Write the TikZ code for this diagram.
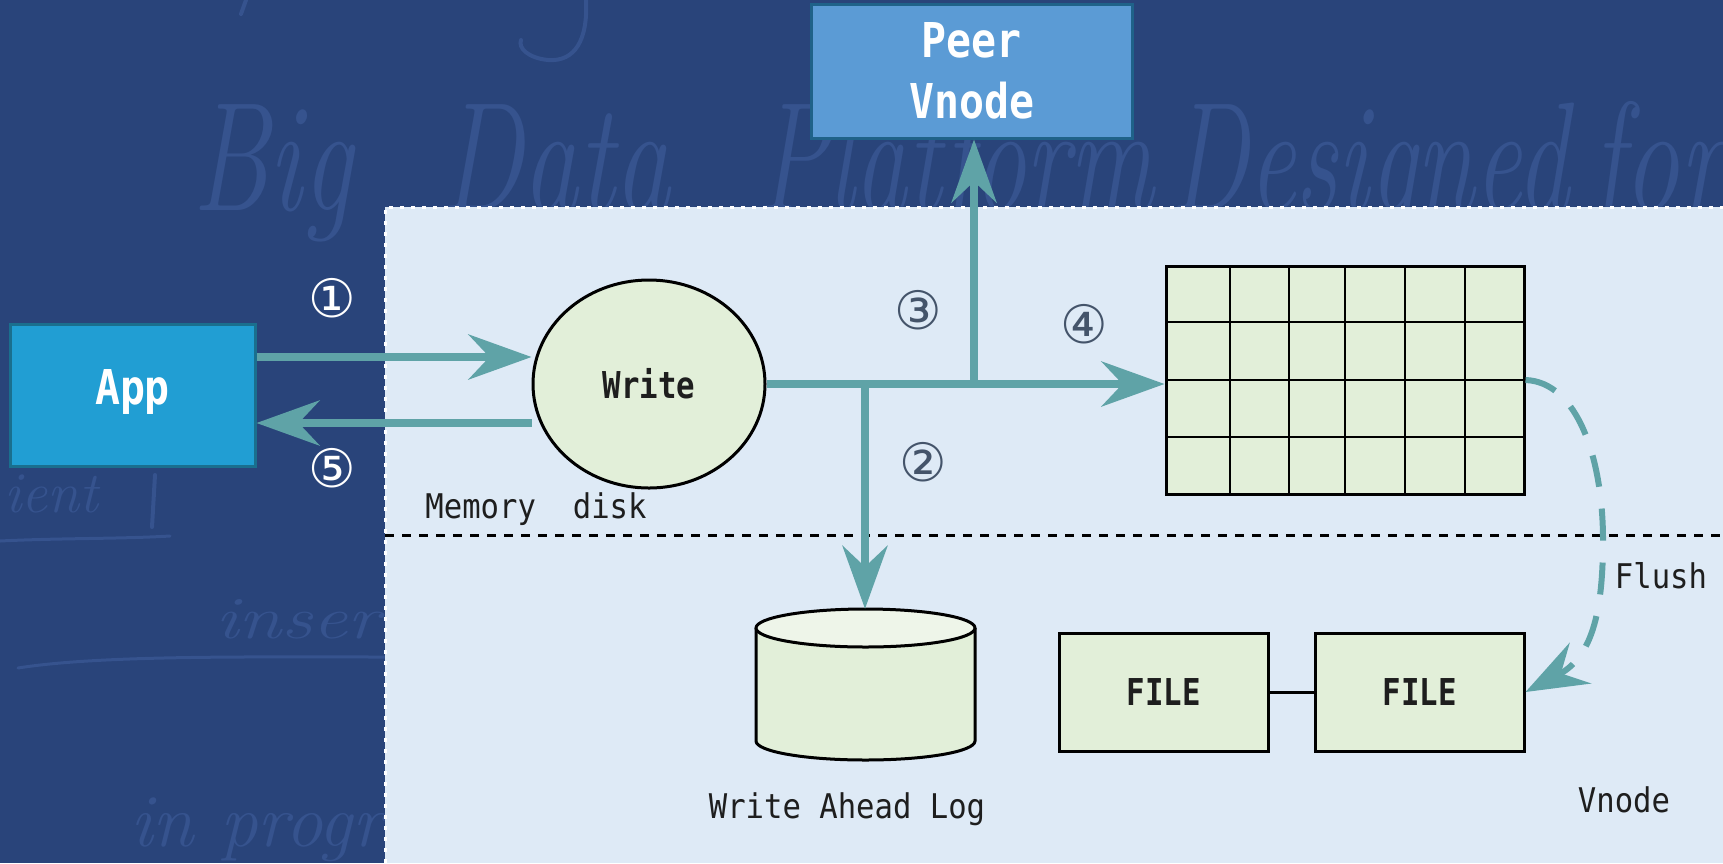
\documentclass[tikz,border=0pt]{standalone}
\usepackage{fontspec}
\usetikzlibrary{arrows.meta,shapes.geometric}
\newfontfamily\bodymono[FakeStretch=0.90]{DejaVu Sans Mono}
\newfontfamily\keymono[FakeStretch=0.83]{DejaVu Sans Mono}
\newfontfamily\titlemono[FakeStretch=0.865]{DejaVu Sans Mono}
\newfontfamily\circfont{DejaVu Sans}
\definecolor{bgblue}{HTML}{29447A}
\definecolor{chalk}{HTML}{36538E}
\definecolor{panelblue}{HTML}{DEEAF6}
\definecolor{nodegreen}{HTML}{E2EFD9}
\definecolor{captop}{HTML}{EEF5E9}
\definecolor{flowteal}{HTML}{5FA3A7}
\definecolor{peerfill}{HTML}{5B9BD5}
\definecolor{peerline}{HTML}{1F6289}
\definecolor{appfill}{HTML}{219ED3}
\definecolor{appline}{HTML}{1A6F8E}
\definecolor{stepgray}{HTML}{44546A}
\definecolor{inktext}{HTML}{1E1E1E}

\begin{document}
\begin{tikzpicture}[x=1pt,y=-1pt,
  hand/.style={inner sep=0pt, text=chalk, font=\itshape},
  chalkline/.style={draw=chalk, line width=4pt, line cap=round},
  bluebox/.style={rectangle, inner sep=0pt, line width=3pt, text=white,
    font=\titlemono\bfseries\fontsize{48}{61}\selectfont, align=center},
  store/.style={draw=black, line width=3pt, fill=nodegreen},
  flowarrow/.style={draw=flowteal, line width=8pt,
    -{Stealth[length=63pt,width=45pt,inset=21pt]}},
  stepnum/.style={inner sep=0pt, font=\circfont\fontsize{53}{53}\selectfont},
  captxt/.style={inner sep=0pt, anchor=base, text=inktext,
    font=\bodymono\fontsize{34}{34}\selectfont},
  keylabel/.style={text=inktext, font=\keymono\bfseries\fontsize{37}{37}\selectfont},
]
\useasboundingbox (0,0) rectangle (1723,863);
\fill[bgblue] (0,0) rectangle (1723,863);

% chalk writing on the board
\node[hand, anchor=base west] (hwBig) at (192,210) {\scalebox{0.72}[1]{\fontsize{155}{155}\selectfont Big}};
\node[hand, anchor=base west] (hwData) at (440,210) {\scalebox{0.72}[1]{\fontsize{155}{155}\selectfont Data}};
\node[hand, anchor=base west] (hwPlatform) at (758,210) {\scalebox{0.68}[1]{\fontsize{155}{155}\selectfont Platform}};
\node[hand, anchor=base west] (hwDesigned) at (1170,210) {\scalebox{0.68}[1]{\fontsize{155}{155}\selectfont Designed}};
\node[hand, anchor=base west] (hwFor) at (1590,210) {\scalebox{0.72}[1]{\fontsize{155}{155}\selectfont for}};
\node[hand, anchor=base west] (hwClient) at (4,512) {\fontsize{58}{58}\selectfont ient};
\draw[chalkline] (155,475) -- (152,527);
\draw[chalkline, line width=3pt] (0,541) .. controls (60,538) and (120,539) .. (170,536);
\node[hand, anchor=base west] (hwInsert) at (215,638) {\scalebox{1.3}[1]{\fontsize{60}{60}\selectfont insert}};
\draw[chalkline, line width=3pt] (18,668) .. controls (100,655) and (250,657) .. (390,657);
\node[hand, anchor=base west] (hwProgress) at (130,846) {\fontsize{75}{75}\selectfont in progress};
\draw[chalkline] (586,0) .. controls (588,40) and (575,62) .. (548,60) .. controls (528,58) and (518,48) .. (521,40);
\draw[chalkline] (246,0) -- (241,14);

% vnode panel with memory / disk divider
\fill[panelblue] (385,207) rectangle (1723,863);
\draw[white, line width=3pt, dash pattern=on 4pt off 7pt] (385,863) -- (385,207) -- (1723,207);
\draw[black, line width=3pt, dash pattern=on 9pt off 8pt] (385,535) -- (1723,535);

% boxes
\node[bluebox, fill=peerfill, draw=peerline, minimum width=321pt, minimum height=134pt] (peer) at (971.5,71) {Peer\\Vnode};
\node[bluebox, fill=appfill, draw=appline, minimum width=245pt, minimum height=142pt, text depth=17pt] (app) at (132.5,395) {App};
\node[ellipse, store, keylabel, minimum width=232pt, minimum height=208pt, inner sep=0pt] (write) at (649,384) {Write};

% memtable grid
\node[store, rectangle, minimum width=358pt, minimum height=228pt, inner sep=0pt] (mem) at (1345,380) {};
\foreach \x in {1230,1289,1345,1405,1465} \draw[black, line width=2.5pt] (\x,266) -- (\x,494);
\foreach \y in {322,380,437} \draw[black, line width=2.5pt] (1166,\y) -- (1524,\y);

% data files
\node[store, rectangle, keylabel, minimum width=209pt, minimum height=118pt, inner sep=0pt] (fileA) at (1163.5,692) {FILE};
\node[store, rectangle, keylabel, minimum width=209pt, minimum height=118pt, inner sep=0pt] (fileB) at (1419.5,692) {FILE};
\draw[black, line width=3pt] (fileA.east) -- (fileB.west);

% write ahead log cylinder
\node[minimum width=219pt, minimum height=151pt, inner sep=0pt] (wal) at (865.5,684.5) {};
\filldraw[store] (756,628) -- (756,741) arc[start angle=180, end angle=0, x radius=109.5, y radius=19] -- (975,628);
\filldraw[store, fill=captop] (865.5,628) ellipse[x radius=109.5, y radius=19];

% flows
\coordinate (r1) at (0,357);
\coordinate (r5) at (0,423);
\coordinate (j1) at (865,384);
\coordinate (j2) at (974,384);
\draw[flowarrow] (app.east |- r1) -- (write.west |- r1);
\draw[flowarrow] (write.west |- r5) -- (app.east |- r5);
\draw[flowarrow] (write.east) -- (j2 -| mem.west);
\draw[flowarrow] (j1) -- (j1 |- wal.north);
\draw[flowarrow] (j2) -- (j2 |- peer.south);
\draw[draw=flowteal, line width=6pt, dash pattern=on 32pt off 22pt,
  -{Stealth[length=62pt,width=46pt,inset=22pt]}]
  (mem.east) .. controls (1578,382) and (1603,460) .. (1603,540)
  .. controls (1603,612) and (1592,657) .. (fileB.east);

% step numbers
\node[stepnum, text=white] (s1) at (332,298) {①};
\node[stepnum, text=white] (s5) at (332,468) {⑤};
\node[stepnum, text=stepgray] (s3) at (918,310) {③};
\node[stepnum, text=stepgray] (s2) at (923,462) {②};
\node[stepnum, text=stepgray] (s4) at (1084,324) {④};

% captions
\node[captxt] (memdisk) at (536,518) {Memory\ \ disk};
\node[captxt] (walname) at (847,818) {Write Ahead Log};
\node[captxt] (vnodename) at (1624,812) {Vnode};
\node[captxt] (flushname) at (1661,588) {Flush};
\end{tikzpicture}
\end{document}
